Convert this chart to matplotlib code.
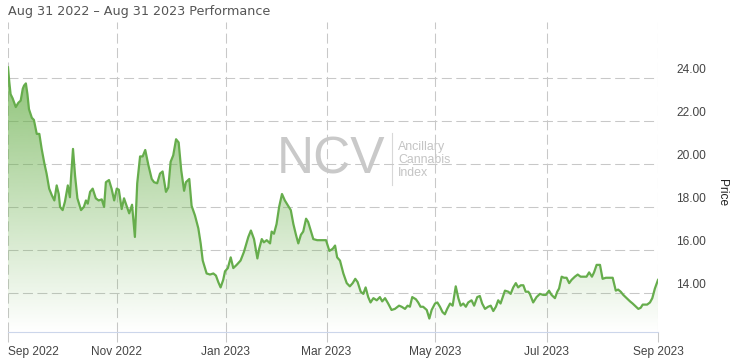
import numpy as np
import matplotlib
matplotlib.use("Agg")
import matplotlib.pyplot as plt
from matplotlib.transforms import blended_transform_factory, ScaledTranslation
from matplotlib.patches import Polygon

plt.rcParams['lines.scale_dashes'] = False

# trading-day index (0 = Sep 1 2022) and price
day_index = [0.0, 0.5, 1.0, 1.8, 3.0, 4.0, 4.9, 5.7, 6.2, 6.9, 7.5, 8.1, 9.2, 10.0, 11.1, 12.1, 13.0, 14.0, 14.9, 15.9,
             16.9, 17.9, 18.8, 19.6, 20.1, 21.1, 22.0, 23.1, 23.9, 24.3, 25.1, 25.9, 26.8, 28.2, 29.3, 30.1, 30.8, 31.7,
             32.7, 33.9, 35.0, 36.2, 37.1, 37.8, 39.0, 40.0, 41.0, 42.0, 42.8, 43.9, 44.8, 45.8, 46.8, 47.9, 49.0, 49.9,
             51.0, 52.0, 53.0, 54.2, 55.5, 56.4, 57.6, 58.7, 59.7, 61.0, 61.9, 62.8, 63.8, 64.9, 65.9, 66.9, 68.0, 68.7,
             70.0, 70.9, 72.2, 73.5, 74.4, 75.2, 76.7, 78.0, 79.3, 80.3, 81.2, 82.1, 83.1, 83.8, 84.9, 86.0, 87.0, 88.3,
             89.8, 91.1, 92.8, 93.8, 95.0, 96.3, 97.0, 98.0, 98.8, 99.9, 101.2, 101.8, 102.7, 103.7, 104.7, 105.8, 106.9,
             108.2, 109.2, 110.2, 111.2, 112.1, 113.1, 114.0, 115.1, 115.9, 116.9, 117.9, 119.4, 121.1, 122.8, 124.1,
             125.4, 126.3, 127.1, 128.2, 129.5, 130.8, 132.0, 133.1, 134.1, 135.0, 136.2, 137.2, 138.1, 139.1, 140.0,
             141.1, 142.4, 143.6, 144.5, 145.6, 146.8, 148.1, 149.4, 151.0, 152.0, 153.3, 154.3, 155.2, 156.1, 157.5,
             158.4, 159.3, 160.3, 161.7, 162.7, 163.6, 164.9, 165.8, 166.8, 167.8, 168.7, 169.6, 170.7, 171.7, 172.9,
             173.9, 174.8, 175.8, 176.8, 177.7, 179.0, 180.0, 181.2, 182.2, 183.1, 184.2, 185.4, 186.4, 187.4, 188.4,
             189.3, 190.2, 191.9, 193.2, 194.1, 195.1, 196.1, 197.0, 198.0, 199.0, 199.9, 200.9, 201.5, 202.8, 204.1,
             205.4, 206.7, 207.7, 208.9, 209.9, 211.2, 212.1, 212.8, 213.8, 214.7, 215.7, 216.7, 217.6, 218.9, 220.0,
             221.1, 222.4, 223.4, 224.4, 225.5, 226.3, 227.3, 228.6, 229.6, 230.9, 232.2, 233.5, 234.7, 235.6, 236.6,
             237.6, 238.9, 240.2, 241.2, 242.5, 243.4, 244.3, 245.1, 246.0, 246.8, 247.9, 248.8, 249.8, 250.7, 251.0]
price = [24.49, 23.80, 23.24, 23.04, 22.64, 22.84, 22.94, 23.49, 23.64, 23.74, 23.24, 22.54, 22.14, 22.04, 21.39, 21.39,
         20.69, 20.04, 19.54, 18.84, 18.54, 18.29, 18.99, 18.59, 17.99, 17.84, 18.24, 18.99, 18.44, 19.29, 20.69, 19.44,
         18.39, 17.84, 17.99, 18.29, 18.14, 18.69, 18.84, 18.39, 18.29, 18.34, 17.99, 19.14, 19.24, 18.84, 18.29, 18.84,
         18.79, 17.89, 18.39, 18.04, 17.69, 18.09, 16.59, 19.09, 20.34, 20.34, 20.64, 19.94, 19.29, 19.14, 19.09, 19.54,
         19.64, 18.69, 18.89, 20.09, 20.39, 21.14, 20.99, 19.69, 18.74, 19.14, 19.29, 18.04, 17.59, 16.99, 16.29, 15.49,
         14.89, 14.84, 14.89, 14.79, 14.49, 14.24, 14.59, 14.99, 15.14, 15.64, 15.14, 15.29, 15.49, 15.89, 16.59, 16.89,
         16.49, 15.59, 16.04, 16.49, 16.34, 16.44, 16.29, 16.84, 16.74, 17.19, 17.99, 18.59, 18.29, 18.04, 17.84, 17.19,
         16.69, 16.29, 16.69, 16.84, 17.44, 17.29, 16.89, 16.49, 16.44, 16.44, 16.44, 15.94, 16.04, 16.19, 15.64, 15.49,
         14.89, 14.44, 14.29, 14.44, 14.64, 14.49, 14.04, 13.94, 14.24, 13.79, 13.54, 13.74, 13.64, 13.79, 13.59, 13.74,
         13.49, 13.19, 13.24, 13.39, 13.34, 13.24, 13.39, 13.34, 13.79, 13.69, 13.54, 13.34, 13.34, 13.19, 12.79, 13.19,
         13.49, 13.54, 13.34, 13.09, 12.99, 13.24, 13.49, 13.39, 14.29, 13.74, 13.39, 13.49, 13.34, 13.54, 13.64, 13.39,
         13.79, 13.84, 13.49, 13.24, 13.34, 13.39, 13.14, 13.34, 13.64, 13.49, 14.09, 14.04, 13.94, 14.24, 14.44, 14.24,
         14.34, 14.34, 14.04, 14.04, 13.94, 13.54, 13.79, 13.94, 13.89, 13.89, 14.09, 13.89, 13.74, 14.04, 14.19, 14.74,
         14.69, 14.69, 14.44, 14.59, 14.74, 14.84, 14.74, 14.74, 14.74, 14.94, 14.74, 14.94, 15.29, 15.29, 14.64, 14.69,
         14.69, 14.69, 14.09, 14.14, 14.04, 13.89, 13.74, 13.59, 13.49, 13.34, 13.24, 13.29, 13.44, 13.44, 13.44, 13.54,
         13.74, 14.19, 14.49, 14.59]

tick_days = [0, 42, 84, 123, 165, 208, 251]
tick_labels = ['Sep 2022', 'Nov 2022', 'Jan 2023', 'Mar 2023', 'May 2023', 'Jul 2023', 'Sep 2023']
y_ticks = [14, 16, 18, 20, 22, 24]
y_tick_labels = ['14.00', '16.00', '18.00', '20.00', '22.00', '24.00']

title = 'Aug 31 2022 \u2013 Aug 31 2023 Performance'
y_title = 'Price'
wm_main = 'NCV'
wm_sub = ['Ancillary', 'Cannabis', 'Index']

W, H = 737, 364
fig = plt.figure(figsize=(W / 100, H / 100), dpi=100)
ax = fig.add_axes([8 / W, 1 - 332.3 / H, 650 / W, (332.3 - 22) / H])
xmin, xmax = 0, 251
ymin, ymax = 12.15, 26.6
ax.set_xlim(xmin, xmax)
ax.set_ylim(ymin, ymax)

grid_c = '#c8c8c8'
dash = (0, (7.2, 3.2))
for yv in y_ticks:
    ax.axhline(yv, color=grid_c, lw=0.75, ls=dash, zorder=1)
for xv in tick_days:
    ax.axvline(xv, color=grid_c, lw=0.75, ls=dash, zorder=1)

# watermark
ax.text((277 - 8) / 650, 1 - (160 - 22) / 310.3, wm_main, transform=ax.transAxes,
        fontsize=37, family='Liberation Sans', color='#c9c9c9', va='center', ha='left', zorder=0)
ax.plot([(391.7 - 8) / 650] * 2, [1 - (133 - 22) / 310.3, 1 - (185 - 22) / 310.3],
        transform=ax.transAxes, color='#d8d8d8', lw=0.8, zorder=0)
for i, s in enumerate(wm_sub):
    ax.text((398 - 8) / 650, 1 - (147 + 13 * i - 22) / 310.3, s, transform=ax.transAxes,
            fontsize=8.9, family='Liberation Sans', color='#c4c4c4', va='center', ha='left', zorder=0)

# gradient fill
x = np.array(day_index)
y = np.array(price)
verts = np.vstack([np.column_stack([x, y]), [[x[-1], ymin], [x[0], ymin]]])
poly = Polygon(verts, closed=True, facecolor='none', edgecolor='none')
ax.add_patch(poly)
n = 256
alpha = np.linspace(0.0, 0.9, n)[:, None]
grad = np.zeros((n, 1, 4))
grad[..., 0] = 106 / 255
grad[..., 1] = 176 / 255
grad[..., 2] = 76 / 255
grad[..., 3] = alpha
im = ax.imshow(grad, extent=[xmin, xmax, ymin, ymax], origin='lower', aspect='auto', zorder=2,
               interpolation='bilinear')
im.set_clip_path(poly)

ax.plot(x, y, color='#66ad4c', lw=1.6, zorder=3, solid_joinstyle='round')

for sp in ['left', 'right', 'top']:
    ax.spines[sp].set_visible(False)
ax.spines['bottom'].set_color('#ccd6eb')
ax.spines['bottom'].set_linewidth(0.8)

ax.set_xticks(tick_days)
ax.set_xticklabels(tick_labels, family='Liberation Sans', fontsize=8.6, color='#444444')
ax.get_xticklabels()[0].set_ha('left')
ax.tick_params(axis='x', length=7.2, width=0.75, color=grid_c, pad=3)
ax.set_yticks([])

tr = blended_transform_factory(ax.transAxes, ax.transData) + ScaledTranslation(0, 7.5 / 100, fig.dpi_scale_trans)
for yv, lab in zip(y_ticks, y_tick_labels):
    ax.text((676 - 8) / 650, yv, lab, transform=tr, ha='left', va='center',
            family='Liberation Sans', fontsize=8.6, color='#444444', clip_on=False)

fig.text(722 / W, 1 - 193 / H, y_title, rotation=270, ha='center', va='center',
         family='Liberation Sans', fontsize=8.6, color='#222222')
fig.text(8 / W, 1 - 11 / H, title, ha='left', va='center', family='DejaVu Sans', fontsize=9.2, color='#555555')

fig.savefig('out.png', dpi=100)
